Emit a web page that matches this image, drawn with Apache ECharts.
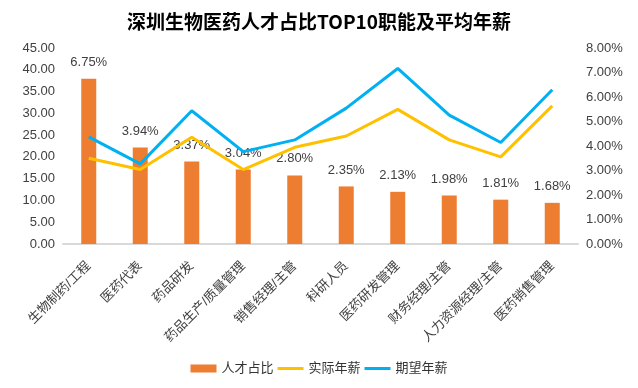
<!DOCTYPE html>
<html><head><meta charset="utf-8">
<script src="https://cdn.jsdelivr.net/npm/echarts@6/dist/echarts.min.js"></script>
<style>html,body{margin:0;padding:0;background:#fff}#c{width:638px;height:388px}</style>
</head><body><div id="c"></div>
<script>
const categories = ['生物制药/工程','医药代表','药品研发','药品生产/质量管理','销售经理/主管','科研人员','医药研发管理','财务经理/主管','人力资源经理/主管','医药销售管理'];
const talentShare = [6.75,3.94,3.37,3.04,2.80,2.35,2.13,1.98,1.81,1.68];
const actualSalary = [19.7,17.1,24.5,17.1,22.2,24.8,30.9,23.9,20.0,31.7];
const expectedSalary = [24.6,18.4,30.6,21.2,23.9,31.2,40.3,29.6,23.3,35.4];
const leftTicks = {min:0,max:45,interval:5};
const rightTicks = {min:0,max:8,interval:1};

const FONT = '"Liberation Sans","Noto Sans CJK SC",sans-serif';
const LINE_ICON = 'path://M0,0 L26,0 L26,3 L0,3 Z';
const chart = echarts.init(document.getElementById('c'));
chart.setOption({
  animation:false,
  textStyle:{fontFamily:FONT},
  title:{text:'深圳生物医药人才占比TOP10职能及平均年薪',left:'center',top:7,
    textStyle:{fontFamily:'"Noto Sans CJK SC",sans-serif',fontWeight:'bold',fontSize:19,color:'#000'}},
  grid:{left:63,right:60,top:48,bottom:144},
  legend:{bottom:8,left:'center',itemGap:4,itemWidth:26,itemHeight:8,
    textStyle:{fontSize:13,color:'#333',fontFamily:FONT},
    data:[{name:'人才占比',icon:'rect'},{name:'实际年薪',icon:LINE_ICON},{name:'期望年薪',icon:LINE_ICON}]},
  xAxis:{type:'category',data:categories,
    axisLine:{lineStyle:{color:'#d9d9d9',width:2}},axisTick:{show:false},
    axisLabel:{rotate:45,fontSize:13,color:'#404040',interval:0,margin:20}},
  yAxis:[
    {type:'value',min:leftTicks.min,max:leftTicks.max,interval:leftTicks.interval,
      splitLine:{show:false},axisLine:{show:false},axisTick:{show:false},
      axisLabel:{fontSize:13,color:'#404040',formatter:v=>v.toFixed(2),margin:8}},
    {type:'value',min:rightTicks.min,max:rightTicks.max,interval:rightTicks.interval,
      splitLine:{show:false},axisLine:{show:false},axisTick:{show:false},
      axisLabel:{fontSize:13,color:'#404040',formatter:v=>v.toFixed(2)+'%',margin:8}}
  ],
  series:[
    {name:'人才占比',type:'bar',yAxisIndex:1,data:talentShare,barWidth:15,
      itemStyle:{color:'#ED7D31'},
      label:{show:true,position:'top',distance:10,fontSize:13,color:'#404040',formatter:p=>p.value.toFixed(2)+'%'}},
    {name:'实际年薪',type:'line',yAxisIndex:0,data:actualSalary,symbol:'none',
      lineStyle:{color:'#FFC000',width:3},itemStyle:{color:'#FFC000'}},
    {name:'期望年薪',type:'line',yAxisIndex:0,data:expectedSalary,symbol:'none',
      lineStyle:{color:'#00B0F0',width:3},itemStyle:{color:'#00B0F0'}}
  ]
});
</script></body></html>
